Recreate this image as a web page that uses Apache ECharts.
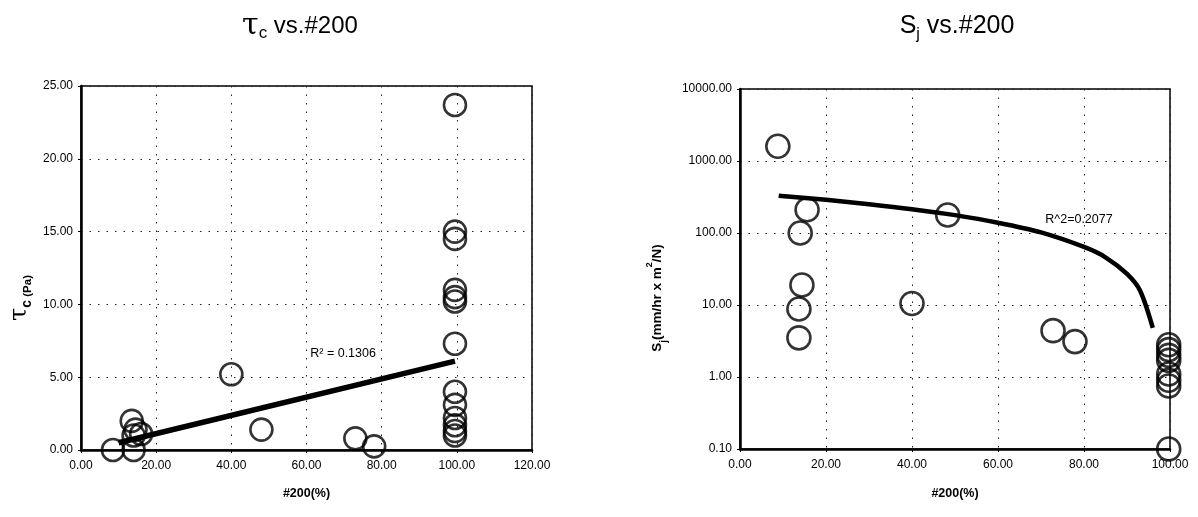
<!DOCTYPE html>
<html><head><meta charset="utf-8">
<script src="https://cdn.jsdelivr.net/npm/echarts@6/dist/echarts.min.js"></script>
<style>html,body{margin:0;padding:0;background:#fff}#c{width:1198px;height:517px}</style>
</head><body><div id="c"></div>
<script>
// ---- Left chart: tau_c vs #200 ----
const tauX = [8.5, 14, 14, 14.5, 13.5, 16, 40, 48, 73, 78, 99.5, 99.5, 99.5, 99.5, 99.5, 99.5, 99.5, 99.5, 99.5, 99.5, 99.5, 99.5, 99.5];
const tauY = [0.0, 0.0, 1.0, 1.4, 2.0, 1.1, 5.2, 1.4, 0.8, 0.25, 23.7, 15.0, 14.5, 11.0, 10.5, 10.2, 7.3, 4.0, 3.1, 2.2, 1.7, 1.3, 1.0];
const tauTrendX = [10, 99.5];
const tauTrendY = [0.5, 6.1];
const tauR2 = 'R² = 0.1306';
const tauR2Pos = [61, 6.6];

// ---- Right chart: S_j vs #200 ----
const sjX = [8.8, 15.6, 14, 14.4, 13.7, 13.7, 40, 48.3, 72.8, 77.9, 99.7, 99.7, 99.7, 99.7, 99.7, 99.7, 99.7, 99.7];
const sjY = [1600, 210, 100, 19, 8.8, 3.5, 10.5, 178, 4.4, 3.1, 2.8, 2.4, 2.0, 1.7, 1.1, 0.9, 0.75, 0.1];
const sjTrendX = [9, 20, 30, 40, 50, 60, 70, 80, 85, 90, 93, 96];
const sjTrendY = [330, 289, 251, 214, 177, 139, 102, 64, 46, 27, 16, 4.8];
const sjR2 = 'R^2=0.2077';
const sjR2Pos = [71, 152];

const tauXTicks = [0, 20, 40, 60, 80, 100, 120];
const tauYTicks = [0, 5, 10, 15, 20, 25];
const sjXTicks = [0, 20, 40, 60, 80, 100];
const sjYTicks = [0.1, 1, 10, 100, 1000, 10000];

const FONT = '"Liberation Sans", Arial, sans-serif';
const zip = (a, b) => a.map((v, i) => [v, b[i]]);
const fmt = v => Number(v).toFixed(2);

const axisCommon = {
  axisLine: {show: true, lineStyle: {color: '#000', width: 2.5}},
  axisTick: {show: true, length: 3, lineStyle: {color: '#000'}},
  axisLabel: {color: '#000', fontSize: 12, fontFamily: FONT, formatter: fmt},
  splitLine: {show: true, lineStyle: {color: '#222', type: [1.5, 7], width: 1}}
};
const nameStyle = {fontWeight: 'bold', fontSize: 12.5, color: '#000', fontFamily: FONT};

const chart = echarts.init(document.getElementById('c'), null, {renderer: 'canvas'});
const scatterStyle = {color: 'rgba(0,0,0,0)', borderColor: '#000', borderWidth: 2.6};

chart.setOption({
  animation: false,
  backgroundColor: '#fff',
  grid: [
    {left: 81, top: 86, width: 451, height: 364, show: true, borderColor: '#000', borderWidth: 1.5, backgroundColor: 'transparent'},
    {left: 740, top: 89, width: 430, height: 360, show: true, borderColor: '#000', borderWidth: 1.5, backgroundColor: 'transparent'}
  ],
  xAxis: [
    Object.assign({}, axisCommon, {gridIndex: 0, type: 'value', min: tauXTicks[0], max: tauXTicks[tauXTicks.length - 1], interval: 20,
      name: '#200(%)', nameLocation: 'middle', nameGap: 37, nameTextStyle: nameStyle,
      axisLabel: Object.assign({}, axisCommon.axisLabel, {margin: 10})}),
    Object.assign({}, axisCommon, {gridIndex: 1, type: 'value', min: sjXTicks[0], max: sjXTicks[sjXTicks.length - 1], interval: 20,
      name: '#200(%)', nameLocation: 'middle', nameGap: 38, nameTextStyle: nameStyle,
      axisLabel: Object.assign({}, axisCommon.axisLabel, {margin: 10})})
  ],
  yAxis: [
    Object.assign({}, axisCommon, {gridIndex: 0, type: 'value', min: tauYTicks[0], max: tauYTicks[tauYTicks.length - 1], interval: 5}),
    Object.assign({}, axisCommon, {gridIndex: 1, type: 'log', logBase: 10, min: sjYTicks[0], max: sjYTicks[sjYTicks.length - 1],
      minorTick: {show: false}, minorSplitLine: {show: false}})
  ],
  series: [
    {type: 'line', xAxisIndex: 0, yAxisIndex: 0, data: zip(tauTrendX, tauTrendY), symbol: 'none',
      lineStyle: {color: '#000', width: 5.5}, z: 3},
    {type: 'scatter', xAxisIndex: 0, yAxisIndex: 0, data: zip(tauX, tauY), symbol: 'circle', symbolSize: 22,
      itemStyle: scatterStyle, clip: false, z: 4},
    {type: 'line', xAxisIndex: 1, yAxisIndex: 1, data: zip(sjTrendX, sjTrendY), symbol: 'none', smooth: 0.3,
      lineStyle: {color: '#000', width: 4.5}, z: 3},
    {type: 'scatter', xAxisIndex: 1, yAxisIndex: 1, data: zip(sjX, sjY), symbol: 'circle', symbolSize: 23,
      itemStyle: scatterStyle, clip: false, z: 4}
  ]
});

const p1 = chart.convertToPixel({xAxisIndex: 0, yAxisIndex: 0}, tauR2Pos);
const p2 = chart.convertToPixel({xAxisIndex: 1, yAxisIndex: 1}, sjR2Pos);

chart.setOption({
  graphic: [
    {type: 'text', x: 300, y: 26, style: {
      text: '{t|τ}{s|c}{n| vs.#200}', align: 'center', verticalAlign: 'middle', fill: '#000',
      rich: {
        t: {fontSize: 30, fontFamily: '"DejaVu Serif", serif', verticalAlign: 'middle', lineHeight: 32},
        s: {fontSize: 17, fontFamily: FONT, verticalAlign: 'bottom', lineHeight: 32},
        n: {fontSize: 24, fontFamily: FONT, verticalAlign: 'middle', lineHeight: 32}
      }}},
    {type: 'text', x: 957, y: 26, style: {
      text: '{n|S}{s|j}{n| vs.#200}', align: 'center', verticalAlign: 'middle', fill: '#000',
      rich: {
        s: {fontSize: 16, fontFamily: FONT, verticalAlign: 'bottom', lineHeight: 34},
        n: {fontSize: 25, fontFamily: FONT, verticalAlign: 'middle', lineHeight: 34}
      }}},
    {type: 'text', x: 20, y: 298, rotation: Math.PI / 2, style: {
      text: '{t|τ}{s|c}{n| (Pa)}', align: 'center', verticalAlign: 'middle', fill: '#000',
      rich: {
        t: {fontSize: 24, fontFamily: '"DejaVu Serif", serif', verticalAlign: 'middle', lineHeight: 28},
        s: {fontSize: 14, fontFamily: FONT, fontWeight: 'bold', verticalAlign: 'bottom', lineHeight: 28},
        n: {fontSize: 11.5, fontFamily: FONT, fontWeight: 'bold', verticalAlign: 'bottom', lineHeight: 28}
      }}},
    {type: 'text', x: 657, y: 298, rotation: Math.PI / 2, style: {
      text: '{n|S}{s|j}{n|(mm/hr x m}{p|2}{n|/N)}', align: 'center', verticalAlign: 'middle', fill: '#000',
      rich: {
        n: {fontSize: 13.5, fontFamily: FONT, fontWeight: 'bold', verticalAlign: 'middle', lineHeight: 24},
        s: {fontSize: 10, fontFamily: FONT, fontWeight: 'bold', verticalAlign: 'bottom', lineHeight: 24},
        p: {fontSize: 9, fontFamily: FONT, fontWeight: 'bold', verticalAlign: 'top', lineHeight: 24}
      }}},
    {type: 'text', x: p1[0], y: p1[1], style: {text: tauR2, fontSize: 12.5, fontFamily: FONT, fill: '#000', align: 'left', verticalAlign: 'middle'}},
    {type: 'text', x: p2[0], y: p2[1], style: {text: sjR2, fontSize: 12.5, fontFamily: FONT, fill: '#000', align: 'left', verticalAlign: 'middle'}}
  ]
});
</script>
</body></html>
